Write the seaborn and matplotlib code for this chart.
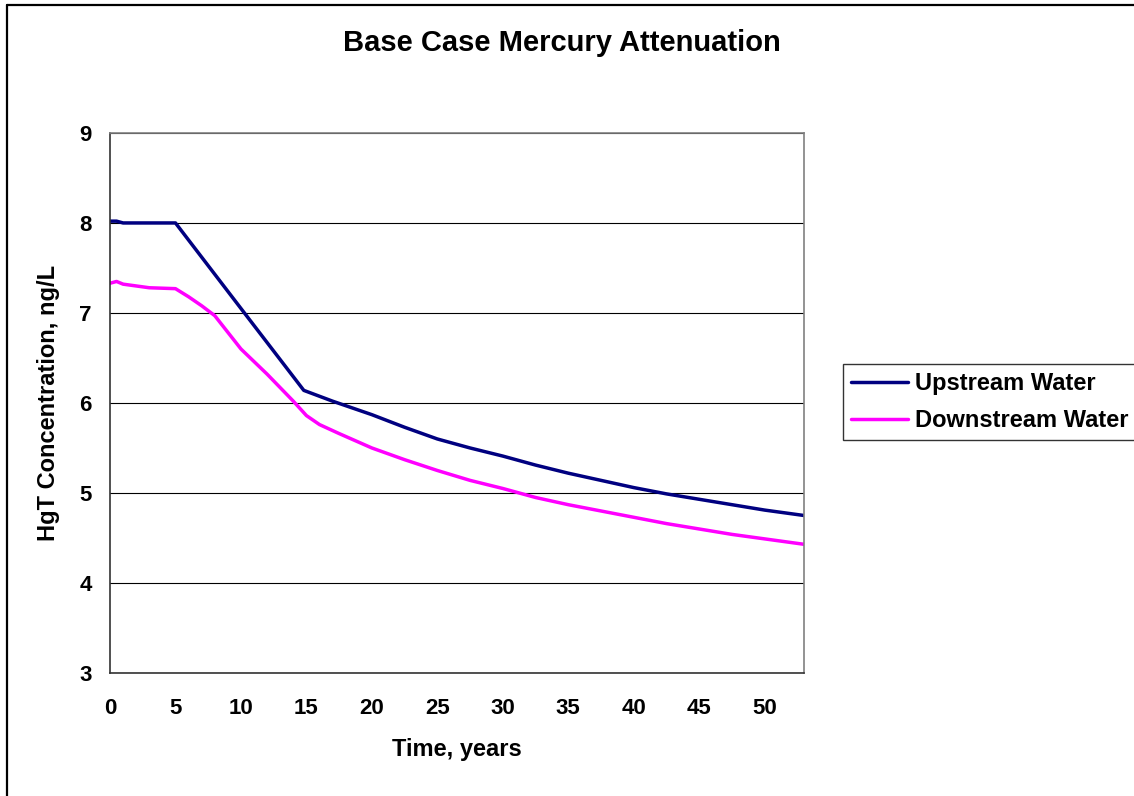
import numpy as np
import pandas as pd
import matplotlib
matplotlib.use("Agg")
import matplotlib.pyplot as plt
from matplotlib.lines import Line2D
import seaborn as sns

# values
up_years = [0, 0.5, 1, 5, 10, 14.8, 17, 20, 22.5, 25, 27.5, 30, 32.5, 35, 37.5,
            40, 42.5, 45, 47.5, 50, 53]
up_conc = [8.02, 8.02, 8.0, 8.0, 7.05, 6.14, 6.02, 5.87, 5.73, 5.6, 5.5, 5.41,
           5.31, 5.22, 5.14, 5.06, 4.99, 4.93, 4.87, 4.81, 4.75]

down_years = [0, 0.5, 1, 2, 3, 5, 6, 7, 8, 10, 12, 14, 15, 16, 17.5, 20, 22.5,
              25, 27.5, 30, 32.5, 35, 37.5, 40, 42.5, 45, 47.5, 50, 53]
down_conc = [7.33, 7.35, 7.32, 7.30, 7.28, 7.27, 7.18, 7.08, 6.97, 6.60, 6.32,
             6.02, 5.86, 5.76, 5.66, 5.50, 5.37, 5.25, 5.14, 5.05, 4.95, 4.87,
             4.80, 4.73, 4.66, 4.60, 4.54, 4.49, 4.43]

x_ticks = [0, 5, 10, 15, 20, 25, 30, 35, 40, 45, 50]
y_ticks = [3, 4, 5, 6, 7, 8, 9]

up_df = pd.DataFrame({"year": up_years, "conc": up_conc})
down_df = pd.DataFrame({"year": down_years, "conc": down_conc})

sns.set_theme(style="white")
plt.rcParams['font.family'] = ['Liberation Sans', 'DejaVu Sans']
plt.rcParams['font.weight'] = 'bold'
plt.rcParams['text.color'] = 'black'
plt.rcParams['axes.labelcolor'] = 'black'

fig = plt.figure(figsize=(11.34, 7.96), dpi=100, facecolor='white')
ax = fig.add_axes([0.097, 0.1545, 0.612, 0.6785])

sns.lineplot(data=up_df, x="year", y="conc", ax=ax, color="#000080",
             linewidth=2.5, label="Upstream Water", legend=False)
sns.lineplot(data=down_df, x="year", y="conc", ax=ax, color="#FF00FF",
             linewidth=2.5, label="Downstream Water", legend=False)

ax.set_xlim(0, 53)
ax.set_ylim(3, 9)
ax.set_xticks(x_ticks)
ax.set_yticks(y_ticks)
ax.tick_params(axis='both', direction='out', length=5, width=1, colors='black',
               labelsize=16)
ax.tick_params(axis='x', pad=13)
ax.tick_params(axis='y', pad=8)
for lab in ax.get_xticklabels() + ax.get_yticklabels():
    lab.set_fontweight('bold')

# horizontal gridlines only
ax.yaxis.grid(True, color='black', linewidth=0.8)
ax.xaxis.grid(False)
ax.set_axisbelow(True)

for side in ['left', 'bottom']:
    ax.spines[side].set_color('#333333')
    ax.spines[side].set_linewidth(1.2)
for side in ['top', 'right']:
    ax.spines[side].set_color('#808080')
    ax.spines[side].set_linewidth(1.2)

ax.set_xlabel("Time, years", fontsize=17, fontweight='bold', labelpad=14)
ax.set_ylabel("HgT Concentration, ng/L", fontsize=17, fontweight='bold', labelpad=14)
fig.text(562 / 1134, 1 - 43 / 796, "Base Case Mercury Attenuation", fontsize=21,
         fontweight='bold', ha='center', va='center')

handles, labels = ax.get_legend_handles_labels()
leg = fig.legend(handles, labels, loc='center left',
                 bbox_to_anchor=(843 / 1134, 1 - 402 / 796), frameon=True,
                 fancybox=False, edgecolor='black', fontsize=17,
                 handlelength=2.4, handletextpad=0.3, borderpad=0.35,
                 labelspacing=0.6, borderaxespad=0)
leg.get_frame().set_linewidth(1.0)
for t in leg.get_texts():
    t.set_fontweight('bold')
    t.set_color('black')

# outer frame (top and left edges visible)
fig.add_artist(Line2D([7 / 1134, 1], [1 - 5 / 796, 1 - 5 / 796],
                      transform=fig.transFigure, color='black', linewidth=1.6))
fig.add_artist(Line2D([7 / 1134, 7 / 1134], [0, 1 - 5 / 796],
                      transform=fig.transFigure, color='black', linewidth=1.6))

fig.savefig("out.png", dpi=100, facecolor='white')
